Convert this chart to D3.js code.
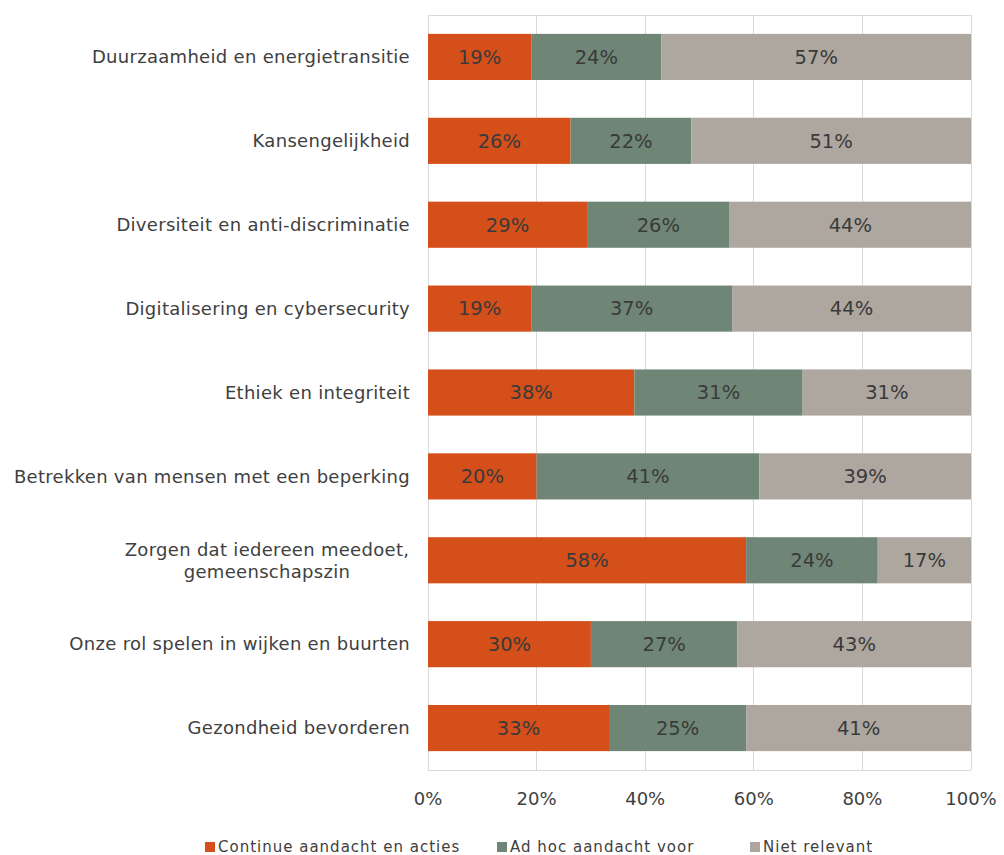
<!DOCTYPE html>
<html><head><meta charset="utf-8">
<script src="https://cdn.jsdelivr.net/npm/d3@7"></script>
<style>body{margin:0;background:#fff;} svg{display:block;}</style>
</head><body>
<svg id="chart" width="1004" height="855"></svg>
<script>
const categories = [
  "Duurzaamheid en energietransitie",
  "Kansengelijkheid",
  "Diversiteit en anti-discriminatie",
  "Digitalisering en cybersecurity",
  "Ethiek en integriteit",
  "Betrekken van mensen met een beperking",
  "Zorgen dat iedereen meedoet, gemeenschapszin",
  "Onze rol spelen in wijken en buurten",
  "Gezondheid bevorderen"
];
const seriesNames = ["Continue aandacht en acties", "Ad hoc aandacht voor", "Niet relevant"];
const continueVals = [19, 26, 29, 19, 38, 20, 58, 30, 33];
const adhocVals    = [24, 22, 26, 37, 31, 41, 24, 27, 25];
const nietVals     = [57, 51, 44, 44, 31, 39, 17, 43, 41];
const xTicks = [0, 0.2, 0.4, 0.6, 0.8, 1.0];
const colors = ["#d44f19", "#6f8676", "#aea7a0"];

const font = "DejaVu Sans, Verdana, sans-serif";
const svg = d3.select("#chart");
const m = {left: 428, right: 971, top: 15, bottom: 770};

const rows = categories.map((c, i) => ({cat: c, a: continueVals[i], b: adhocVals[i], c: nietVals[i]}));
const stack = d3.stack().keys(["a", "b", "c"]).offset(d3.stackOffsetExpand);
const stacked = stack(rows);

const x = d3.scaleLinear().domain([0, 1]).range([m.left, m.right]);
const y = d3.scaleBand().domain(categories).range([m.top, m.bottom]).paddingInner(0.45).paddingOuter(0.225);

// gridlines
svg.append("g").selectAll("line").data(xTicks).join("line")
  .attr("x1", d => x(d)).attr("x2", d => x(d))
  .attr("y1", m.top).attr("y2", m.bottom)
  .attr("stroke", "#d9d9d9").attr("stroke-width", 1).attr("shape-rendering", "crispEdges");
svg.append("line").attr("x1", m.left).attr("x2", m.right).attr("y1", m.top).attr("y2", m.top)
  .attr("stroke", "#d9d9d9").attr("shape-rendering", "crispEdges");
svg.append("line").attr("x1", m.left).attr("x2", m.right).attr("y1", m.bottom).attr("y2", m.bottom)
  .attr("stroke", "#d9d9d9").attr("shape-rendering", "crispEdges");

// bars
const g = svg.append("g");
stacked.forEach((s, si) => {
  g.append("g").selectAll("rect").data(s).join("rect")
    .attr("x", d => x(d[0]))
    .attr("width", d => x(d[1]) - x(d[0]))
    .attr("y", d => y(d.data.cat))
    .attr("height", y.bandwidth())
    .attr("fill", colors[si]);
  g.append("g").selectAll("text").data(s).join("text")
    .attr("x", d => (x(d[0]) + x(d[1])) / 2)
    .attr("y", d => y(d.data.cat) + y.bandwidth() / 2)
    .attr("dy", "0.35em")
    .attr("text-anchor", "middle")
    .attr("font-family", font).attr("font-size", 19.5).attr("fill", "#3a3a3a")
    .text(d => d.data[["a","b","c"][si]] + "%");
});

// category labels
const catG = svg.append("g");
categories.forEach(c => {
  const lines = c === "Zorgen dat iedereen meedoet, gemeenschapszin"
    ? ["Zorgen dat iedereen meedoet,", "gemeenschapszin"] : [c];
  const cy = y(c) + y.bandwidth() / 2;
  const t = catG.append("text")
    .attr("text-anchor", lines.length > 1 ? "middle" : "end")
    .attr("font-family", font).attr("font-size", 18).attr("letter-spacing", 0.3).attr("fill", "#404040");
  if (lines.length > 1) {
    lines.forEach((l, i) => {
      t.append("tspan").attr("x", 267).attr("y", cy + (i - 0.5) * 22).attr("dy", "0.35em").text(l);
    });
  } else {
    t.attr("x", 410).attr("y", cy).attr("dy", "0.35em").text(c);
  }
});

// x axis labels
svg.append("g").selectAll("text").data(xTicks).join("text")
  .attr("x", d => x(d)).attr("y", 799).attr("dy", "0.35em")
  .attr("text-anchor", "middle")
  .attr("font-family", font).attr("font-size", 18).attr("fill", "#404040")
  .text(d3.format(".0%"));

// legend
const legendX = [205, 497, 750];
const lg = svg.append("g");
seriesNames.forEach((n, i) => {
  lg.append("rect").attr("x", legendX[i]).attr("y", 842).attr("width", 10).attr("height", 10).attr("fill", colors[i]);
  lg.append("text").attr("x", legendX[i] + 13).attr("y", 847).attr("dy", "0.35em")
    .attr("font-family", font).attr("font-size", 15).attr("letter-spacing", 1).attr("fill", "#404040").text(n);
});
</script>
</body></html>
